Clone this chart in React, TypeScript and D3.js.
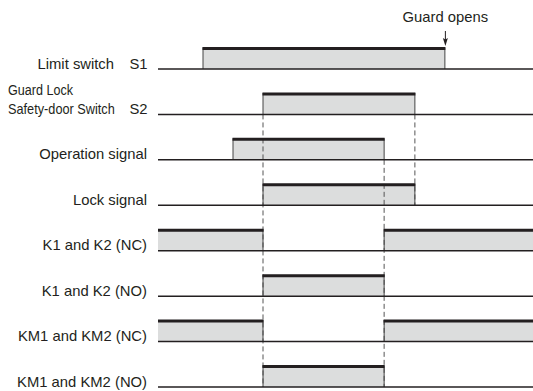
import React from "react";
import * as d3 from "d3";

const rowLabels = [
  "Limit switch",
  "Safety-door Switch",
  "Operation signal",
  "Lock signal",
  "K1 and K2 (NC)",
  "K1 and K2 (NO)",
  "KM1 and KM2 (NC)",
  "KM1 and KM2 (NO)",
];
const rowSuffix = ["S1", "S2", "", "", "", "", "", ""];
const rowPrefix = ["", "Guard Lock", "", "", "", "", "", ""];

// time instants (arbitrary units 0..100)
const T_S1_ON = 12;
const T_OP_ON = 20;
const T_S2_ON = 28;
const T_OP_OFF = 60.3;
const T_S2_OFF = 68.5;
const T_S1_OFF = 76.5;
const T_END = 100;

const pulses: [number, number][][] = [
  [[T_S1_ON, T_S1_OFF]],
  [[T_S2_ON, T_S2_OFF]],
  [[T_OP_ON, T_OP_OFF]],
  [[T_S2_ON, T_S2_OFF]],
  [[0, T_S2_ON], [T_OP_OFF, T_END]],
  [[T_S2_ON, T_OP_OFF]],
  [[0, T_S2_ON], [T_OP_OFF, T_END]],
  [[T_S2_ON, T_OP_OFF]],
];

// dashed guide lines: time, from row, to row
const guides: [number, number, number][] = [
  [T_S2_ON, 1, 7],
  [T_OP_OFF, 2, 7],
  [T_S2_OFF, 1, 3],
];

const annotationText = "Guard opens";

export default function App() {
  const W = 533;
  const H = 391;
  const x = d3.scaleLinear().domain([0, T_END]).range([158, 533]);
  const y = d3.scalePoint<number>().domain(d3.range(rowLabels.length)).range([69, 387]);
  const pulseH = 21.5;
  const dark = "#231f20";
  const font = "'Liberation Sans', Arial, Helvetica, sans-serif";
  const fs = 14.8;
  const ax = x(T_S1_OFF) + 0.5;

  return (
    <svg width={W} height={H} style={{ position: "absolute", left: 0, top: 0, background: "#fff" }}>
      {/* fills */}
      {pulses.map((ps, i) =>
        ps.map(([a, b], j) => (
          <rect key={`f${i}-${j}`} x={x(a)} y={y(i)! - pulseH} width={x(b) - x(a)} height={pulseH} fill="#dcdddd" />
        ))
      )}
      {/* dashed guides */}
      {guides.map(([t, r0, r1], k) => (
        <line key={`g${k}`} x1={x(t)} x2={x(t)} y1={y(r0)!} y2={y(r1)!} stroke="#555" strokeWidth={1} strokeDasharray="5,3" />
      ))}
      {/* edges */}
      {pulses.map((ps, i) =>
        ps.map(([a, b], j) => (
          <g key={`e${i}-${j}`}>
            {a > 0 && <line x1={x(a)} x2={x(a)} y1={y(i)! - pulseH} y2={y(i)!} stroke="#444" strokeWidth={1} />}
            {b < T_END && <line x1={x(b)} x2={x(b)} y1={y(i)! - pulseH} y2={y(i)!} stroke="#444" strokeWidth={1} />}
            <line x1={x(a) - (a > 0 ? 0.5 : 0)} x2={x(b) + (b < T_END ? 0.5 : 0)} y1={y(i)! - pulseH + 1} y2={y(i)! - pulseH + 1} stroke={dark} strokeWidth={3} />
          </g>
        ))
      )}
      {/* baselines */}
      {rowLabels.map((_, i) => (
        <line key={`b${i}`} x1={x(0)} x2={x(T_END)} y1={y(i)!} y2={y(i)!} stroke={dark} strokeWidth={1.5} />
      ))}
      {/* labels */}
      {rowLabels.map((lab, i) => {
        const yy = y(i)! - 0.5;
        if (rowSuffix[i]) {
          return (
            <g key={`l${i}`} fontFamily={font} fontSize={fs} fill={dark}>
              {rowPrefix[i] ? (
                <>
                  <text transform={`translate(8,${yy - 18.5}) scale(0.85,1)`}>{rowPrefix[i]}</text>
                  <text transform={`translate(8,${yy}) scale(0.86,1)`}>{lab}</text>
                </>
              ) : (
                <text x={114} y={yy} textAnchor="end">{lab}</text>
              )}
              <text x={147.5} y={yy} textAnchor="end">{rowSuffix[i]}</text>
            </g>
          );
        }
        return (
          <text key={`l${i}`} x={147} y={yy} textAnchor="end" fontFamily={font} fontSize={fs} fill={dark}>
            {lab}
          </text>
        );
      })}
      {/* annotation */}
      <text x={ax} y={22} textAnchor="middle" fontFamily={font} fontSize={fs} fill={dark}>
        {annotationText}
      </text>
      <line x1={ax} x2={ax} y1={31} y2={40} stroke={dark} strokeWidth={1} />
      <path d={`M${ax - 2.5},38 L${ax},46 L${ax + 2.5},38 L${ax},39.5 Z`} fill={dark} />
    </svg>
  );
}
